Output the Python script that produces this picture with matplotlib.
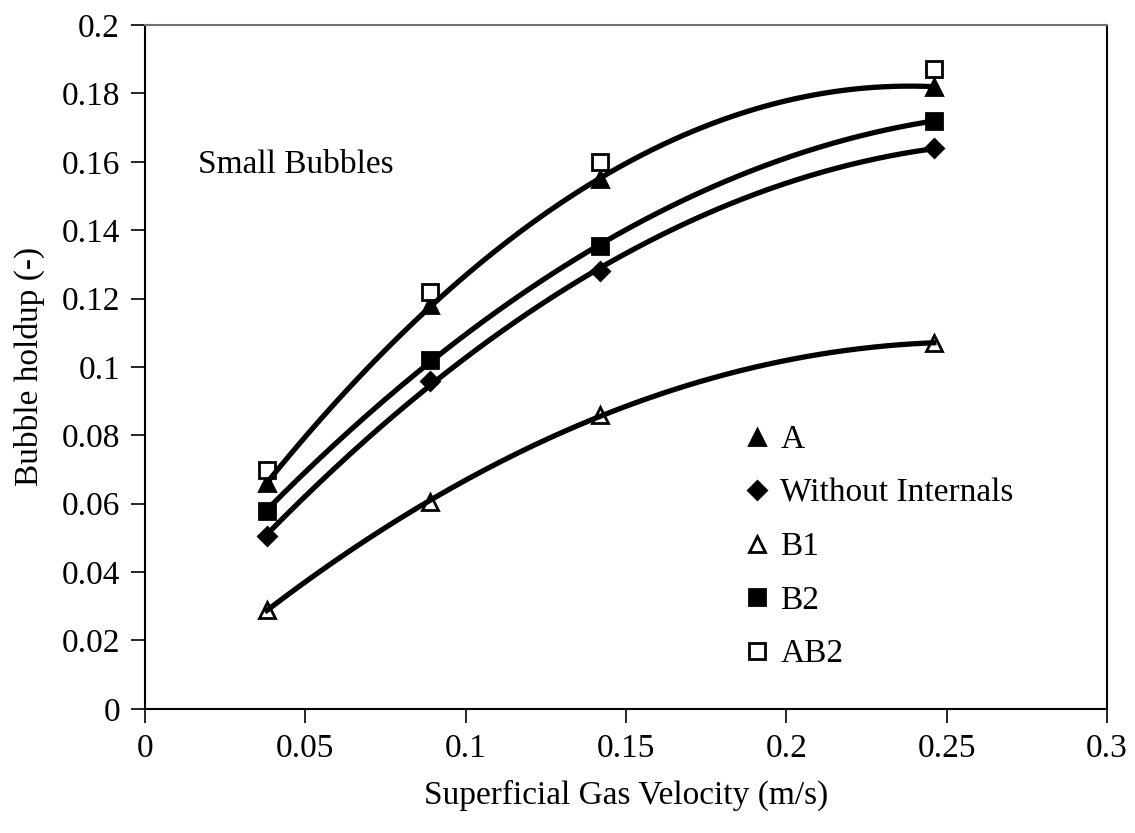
import matplotlib.pyplot as plt
import numpy as np

plt.rcParams['font.family'] = ['Liberation Serif', 'DejaVu Serif']

# superficial gas velocity (m/s)
ug = [0.038, 0.089, 0.142, 0.246]

# bubble holdup for each configuration
hold_A = [0.066, 0.118, 0.155, 0.182]
hold_none = [0.0505, 0.096, 0.128, 0.164]
hold_B1 = [0.029, 0.0605, 0.086, 0.107]
hold_B2 = [0.058, 0.102, 0.1355, 0.172]
hold_AB2 = [0.070, 0.122, 0.160, 0.187]

fig = plt.figure(figsize=(11.35, 8.33), dpi=100)
ax = fig.add_axes([0.1278, 0.149, 0.8475, 0.821])

# series: label, values, marker, face colour, trendline?
series = [
    ("A", hold_A, "^", "black", True),
    ("Without Internals", hold_none, "D", "black", True),
    ("B1", hold_B1, "^", "white", True),
    ("B2", hold_B2, "s", "black", True),
    ("AB2", hold_AB2, "s", "white", False),
]

x = np.array(ug)
xs = np.linspace(x.min(), x.max(), 200)
for lab, y, mk, fc, trend in series:
    ms = 9 if mk == "D" else 11
    ax.plot(x, y, linestyle="none", marker=mk, markersize=ms,
            markerfacecolor=fc, markeredgecolor="black",
            markeredgewidth=2, label=lab, zorder=2)
    if trend:
        # second order polynomial trendline
        c = np.polyfit(x, y, 2)
        ax.plot(xs, np.polyval(c, xs), color="black", lw=3.8, zorder=3)

ax.set_xlim(0, 0.3)
ax.set_ylim(0, 0.2)
ax.set_xticks(np.arange(0, 0.31, 0.05))
ax.set_xticklabels(["0", "0.05", "0.1", "0.15", "0.2", "0.25", "0.3"])
ax.set_yticks(np.arange(0, 0.201, 0.02))
ax.set_yticklabels(["0", "0.02", "0.04", "0.06", "0.08", "0.1", "0.12",
                    "0.14", "0.16", "0.18", "0.2"])
ax.tick_params(direction="out", length=10, width=1.2, labelsize=24,
               pad=8, colors="black")
for s in ax.spines.values():
    s.set_linewidth(1.5)
ax.spines["top"].set_color("#707070")

ax.set_xlabel("Superficial Gas Velocity (m/s)", fontsize=24, labelpad=11)
ax.set_ylabel("Bubble holdup (-)", fontsize=24, labelpad=12)

ax.text(0.0165, 0.159, "Small Bubbles", fontsize=24, va="center")

ax.legend(loc="upper left", bbox_to_anchor=(0.612, 0.435), frameon=False,
          fontsize=24, handlelength=0.6, handletextpad=0.4,
          labelspacing=0.69, borderaxespad=0)

fig.savefig("out.png", dpi=100)
